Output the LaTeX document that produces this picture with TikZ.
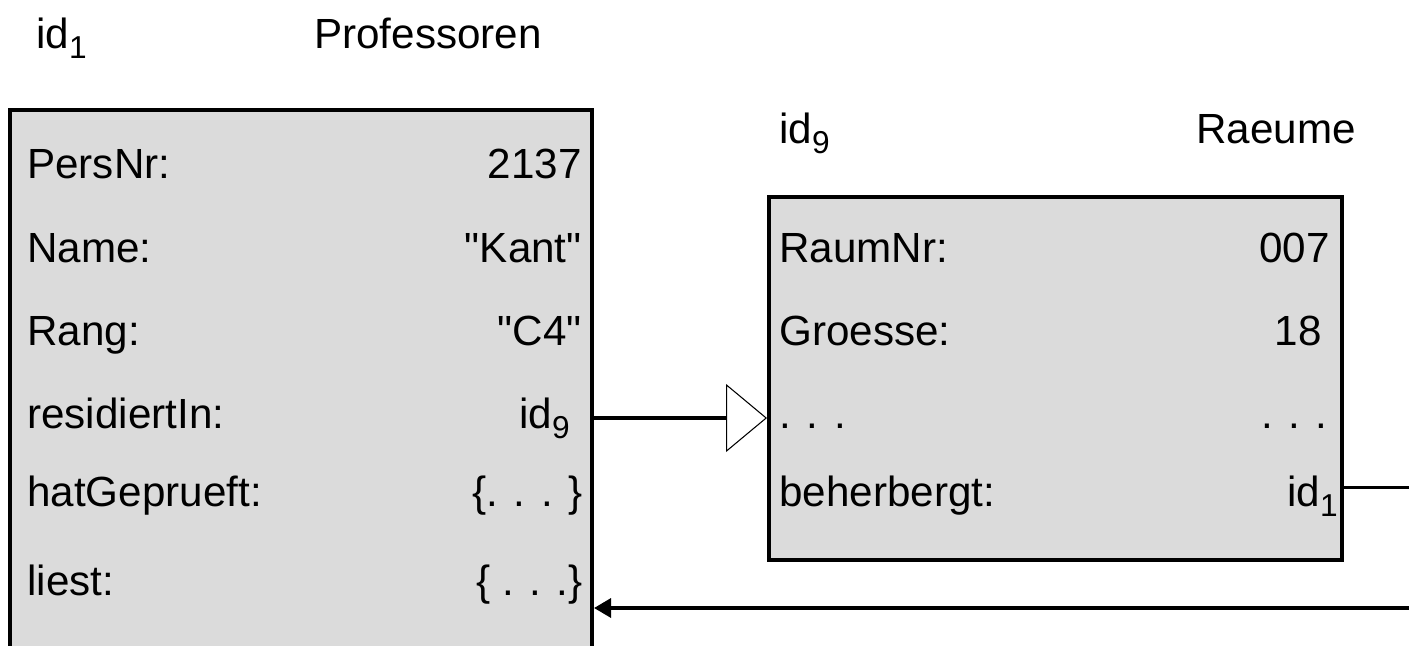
\documentclass[tikz,border=0pt]{standalone}
\usepackage{fontspec}
\setmainfont{Liberation Sans}
\usetikzlibrary{arrows.meta}

\newcommand{\idsub}[1]{\raisebox{-6pt}{\fontsize{18}{20}\selectfont #1}}
\newcommand{\qt}[1]{\textquotedbl#1\textquotedbl}

\tikzset{
  objbox/.style={draw, line width=2.3pt, fill=black!14, anchor=north west, inner sep=0pt},
  attr/.style={anchor=base west, inner sep=0pt},
  val/.style={anchor=base east, inner sep=0pt},
}

\begin{document}
\begin{tikzpicture}[x=0.2mm, y=-0.2mm, font=\fontsize{24}{28}\selectfont]
  \useasboundingbox (0,0) rectangle (1409,646);

  % Draw the two objects
  \node[objbox, minimum width=116.4mm, minimum height=118.4mm] (prof) at (8,108) {};
  \node[objbox, minimum width=114.6mm, minimum height=72.6mm] (raum) at (767,195) {};

  % Add headers
  \node[attr] (profid) at (36,48) {id\idsub{1}};
  \node[attr] (proftitle) at (314,48) {Professoren};
  \node[attr] (raumid) at (779,143) {id\idsub{9}};
  \node[attr] (raumtitle) at (1196,143) {Raeume};

  % Attributes of the professor
  \foreach \i/\y/\a/\x/\v in {1/178/PersNr:/582/2137, 2/262/Name:/582/{\qt{Kant}}, 3/345/Rang:/582/{\qt{C4}},
      4/428/residiertIn:/570/{id\idsub{9}}, 5/506/hatGeprueft:/583/{\{. . . \}}, 6/595/liest:/583/{\{ . . .\}}} {
      \node[attr] (pa\i) at (27,\y) {\a};
      \node[val] (pv\i) at (\x,\y) {\v};
    }

  % Attributes of the room
  \foreach \i/\y/\a/\x/\v in {1/262/RaumNr:/1330/007, 2/345/Groesse:/1322/18, 3/428/. . ./1328/. . .,
      4/506/beherbergt:/1338/{id\idsub{1}}} {
      \node[attr] (ra\i) at (779,\y) {\a};
      \node[val] (rv\i) at (\x,\y) {\v};
    }

  % Add references
  \coordinate (rightin) at (1409,608);
  \coordinate (rightout) at (1409,487);
  \draw[line width=2.3pt, -{Triangle[open, length=8.2mm, width=13.6mm, line width=0.6pt]}]
    (prof.east |- 0,418) -- (raum.west |- 0,418);
  \draw[line width=2pt, -{Triangle[length=3.4mm, width=3.8mm]}] (rightin) -- (prof.east |- rightin);
  \draw[line width=1.7pt] (raum.east |- rightout) -- (rightout);

\end{tikzpicture}
\end{document}
